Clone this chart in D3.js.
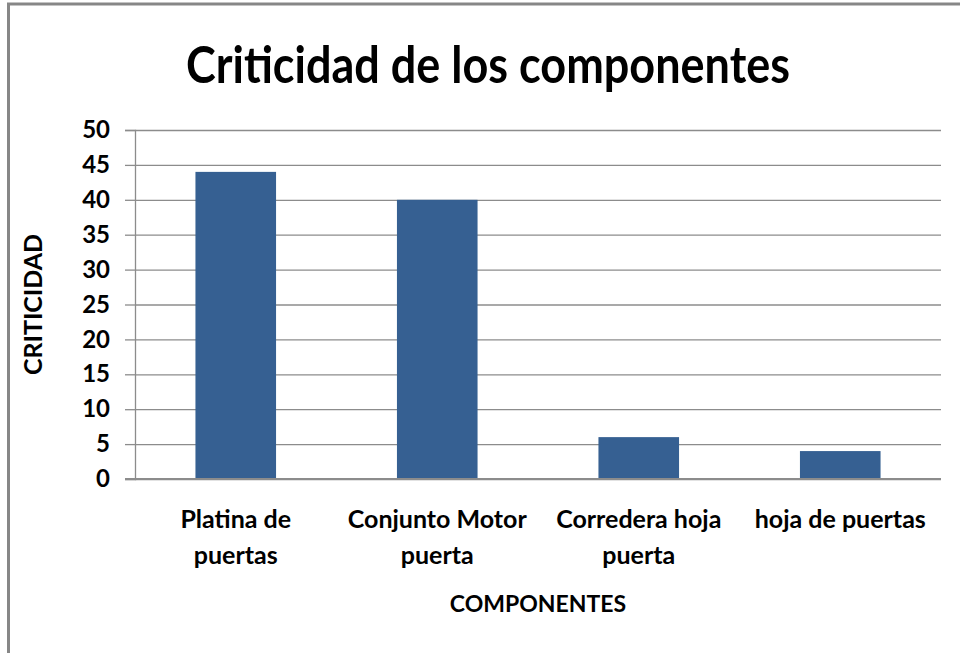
<!DOCTYPE html>
<html>
<head>
<meta charset="utf-8">
<script src="https://cdn.jsdelivr.net/npm/d3@7/dist/d3.min.js"></script>
<style>
  body { margin: 0; background: #fff; }
  text { font-family: Lato, "Open Sans", sans-serif; font-weight: bold; fill: #000; }
</style>
</head>
<body>
<svg id="chart"></svg>
<script>
// datos del grafico
var componentes = [["Platina de", "puertas"], ["Conjunto Motor", "puerta"], ["Corredera hoja", "puerta"], ["hoja de puertas"]];
var criticidad = [44, 40, 6, 4];
var yTicks = [0, 5, 10, 15, 20, 25, 30, 35, 40, 45, 50];

var width = 960, height = 653;
var margin = {left: 135, right: 19, top: 130, bottom: 174};
var plotW = width - margin.left - margin.right;
var plotH = height - margin.top - margin.bottom;

var svg = d3.select("#chart").attr("width", width).attr("height", height);

// marco del grafico
svg.append("path")
  .attr("d", "M8.5,653 L8.5,4 L960,4")
  .attr("fill", "none").attr("stroke", "#878787").attr("stroke-width", 3);

var x = d3.scaleBand().domain(d3.range(componentes.length))
  .range([margin.left, margin.left + plotW])
  .paddingInner(0.6).paddingOuter(0.3);
var y = d3.scaleLinear().domain([0, 50]).range([margin.top + plotH, margin.top]);

// lineas de la cuadricula
svg.append("g")
  .attr("transform", "translate(" + margin.left + ",0)")
  .call(d3.axisLeft(y).tickValues(yTicks).tickSize(-plotW).tickFormat(""))
  .call(function(g) {
    g.select(".domain").remove();
    g.selectAll("line").attr("stroke", "#8c8c8c").attr("stroke-width", 1.3);
  });

// marcas del eje y
var yAxis = svg.append("g")
  .attr("transform", "translate(" + margin.left + ",0)")
  .call(d3.axisLeft(y).tickValues(yTicks).tickSize(10).tickPadding(15));
yAxis.select(".domain").attr("stroke", "#8c8c8c").attr("stroke-width", 1.3);
yAxis.selectAll("line").attr("stroke", "#8c8c8c").attr("stroke-width", 1.3);
yAxis.selectAll("text").style("font-size", "24px").style("font-family", "Lato").style("font-weight", "bold");

// barras
svg.selectAll(".bar").data(criticidad).enter()
  .append("rect").classed("bar", 1)
  .attr("x", function(d, i) { return x(i); })
  .attr("y", function(d) { return y(d); })
  .attr("width", x.bandwidth())
  .attr("height", function(d) { return y(0) - y(d); })
  .attr("fill", "#366092");

// eje x: linea base
svg.append("line")
  .attr("x1", margin.left - 10).attr("x2", margin.left + plotW)
  .attr("y1", y(0)).attr("y2", y(0))
  .attr("stroke", "#8c8c8c").attr("stroke-width", 1.8);

// etiquetas de categorias
var labels = svg.selectAll(".lab").data(componentes).enter()
  .append("text").classed("lab", 1)
  .attr("text-anchor", "middle")
  .attr("transform", function(d, i) { return "translate(" + (x(i) + x.bandwidth() / 2) + ",528)"; })
  .style("font-size", "25px");
labels.selectAll("tspan").data(function(d) { return d; }).enter()
  .append("tspan")
  .attr("x", 0)
  .attr("dy", function(d, i) { return i === 0 ? 0 : 36; })
  .text(function(d) { return d; });

// titulos
svg.append("text")
  .attr("transform", "translate(488,83) scale(1,1.15)")
  .attr("text-anchor", "middle")
  .style("font-size", "45px")
  .text("Criticidad de los componentes");

svg.append("text")
  .attr("x", margin.left + plotW / 2).attr("y", 612)
  .attr("text-anchor", "middle")
  .style("font-size", "23px")
  .text("COMPONENTES");

svg.append("text")
  .attr("transform", "translate(42," + (margin.top + plotH / 2) + ") rotate(-90)")
  .attr("text-anchor", "middle")
  .style("font-size", "25px")
  .text("CRITICIDAD");
</script>
</body>
</html>
